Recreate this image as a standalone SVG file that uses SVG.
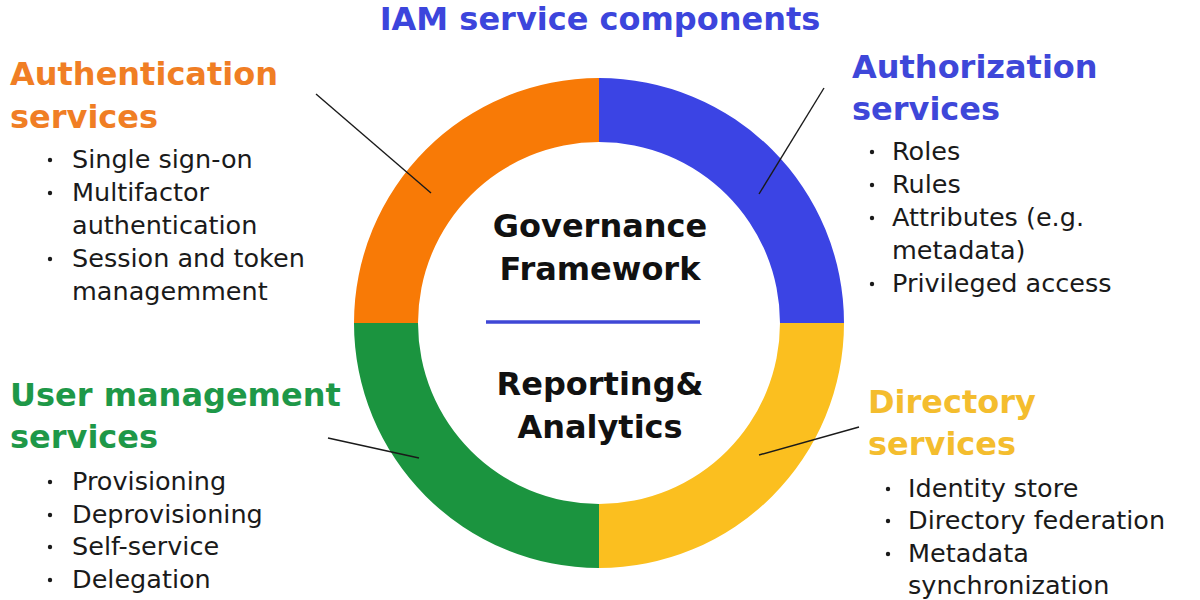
<svg xmlns="http://www.w3.org/2000/svg" width="1200" height="600" viewBox="0 0 1200 600">
<style>
.h{font-family:"DejaVu Sans","Liberation Sans",sans-serif;font-weight:bold;font-size:32px}
.c{font-family:"DejaVu Sans","Liberation Sans",sans-serif;font-weight:bold;font-size:32px;fill:#111;text-anchor:middle}
.b{font-family:"DejaVu Sans","Liberation Sans",sans-serif;font-size:25.5px;fill:#1a1a1a}
.dot{fill:#1a1a1a}
.ln{stroke:#1a1a1a;stroke-width:1.4;fill:none}
</style>
<rect width="1200" height="600" fill="#ffffff"/>
<text id="title" x="600" y="30" class="h" fill="#3C45DC" text-anchor="middle">IAM service components</text>
<g id="ring">
<path id="seg-auth" d="M354 323A245 245 0 0 1 599 78L599 142A181 181 0 0 0 418 323Z" fill="#F87A06"/>
<path id="seg-authz" d="M599 78A245 245 0 0 1 844 323L780 323A181 181 0 0 0 599 142Z" fill="#3B44E4"/>
<path id="seg-dir" d="M844 323A245 245 0 0 1 599 568L599 504A181 181 0 0 0 780 323Z" fill="#FBBF1F"/>
<path id="seg-user" d="M599 568A245 245 0 0 1 354 323L418 323A181 181 0 0 0 599 504Z" fill="#1B943F"/>
</g>
<g id="center">
<text x="600" y="237" class="c">Governance</text>
<text x="600" y="280" class="c">Framework</text>
<line x1="486" y1="322" x2="700" y2="322" stroke="#3F47D6" stroke-width="3.5"/>
<text x="600" y="395" class="c">Reporting&amp;</text>
<text x="600" y="438" class="c">Analytics</text>
</g>
<g id="connectors">
<line class="ln" x1="316" y1="94" x2="431" y2="193"/>
<line class="ln" x1="824" y1="88" x2="759" y2="194"/>
<line class="ln" x1="328" y1="438" x2="419" y2="458"/>
<line class="ln" x1="859" y1="427" x2="759" y2="455"/>
</g>
<g id="authentication">
<text x="10" y="85" class="h" fill="#F07E24">Authentication</text>
<text x="10" y="128" class="h" fill="#F07E24">services</text>
<circle class="dot" cx="50" cy="160" r="2.2"/>
<text x="72" y="168" class="b">Single sign-on</text>
<circle class="dot" cx="50" cy="193" r="2.2"/>
<text x="72" y="201" class="b">Multifactor</text>
<text x="72" y="234" class="b">authentication</text>
<circle class="dot" cx="50" cy="259" r="2.2"/>
<text x="72" y="267" class="b">Session and token</text>
<text x="72" y="300" class="b">managemment</text>
</g>
<g id="authorization">
<text x="852" y="78" class="h" fill="#3E47D9">Authorization</text>
<text x="852" y="120" class="h" fill="#3E47D9">services</text>
<circle class="dot" cx="872" cy="152" r="2.2"/>
<text x="892" y="160" class="b">Roles</text>
<circle class="dot" cx="872" cy="185" r="2.2"/>
<text x="892" y="193" class="b">Rules</text>
<circle class="dot" cx="872" cy="218" r="2.2"/>
<text x="892" y="226" class="b">Attributes (e.g.</text>
<text x="892" y="259" class="b">metadata)</text>
<circle class="dot" cx="872" cy="284" r="2.2"/>
<text x="892" y="292" class="b">Privileged access</text>
</g>
<g id="user-management">
<text x="10" y="406" class="h" fill="#1E9848">User management</text>
<text x="10" y="448" class="h" fill="#1E9848">services</text>
<circle class="dot" cx="50" cy="482" r="2.2"/>
<text x="72" y="490" class="b">Provisioning</text>
<circle class="dot" cx="50" cy="515" r="2.2"/>
<text x="72" y="523" class="b">Deprovisioning</text>
<circle class="dot" cx="50" cy="547" r="2.2"/>
<text x="72" y="555" class="b">Self-service</text>
<circle class="dot" cx="50" cy="580" r="2.2"/>
<text x="72" y="588" class="b">Delegation</text>
</g>
<g id="directory">
<text x="868" y="413" class="h" fill="#F4BD2E">Directory</text>
<text x="868" y="455" class="h" fill="#F4BD2E">services</text>
<circle class="dot" cx="888" cy="489" r="2.2"/>
<text x="908" y="497" class="b">Identity store</text>
<circle class="dot" cx="888" cy="521" r="2.2"/>
<text x="908" y="529" class="b">Directory federation</text>
<circle class="dot" cx="888" cy="554" r="2.2"/>
<text x="908" y="562" class="b">Metadata</text>
<text x="908" y="594" class="b">synchronization</text>
</g>
</svg>
